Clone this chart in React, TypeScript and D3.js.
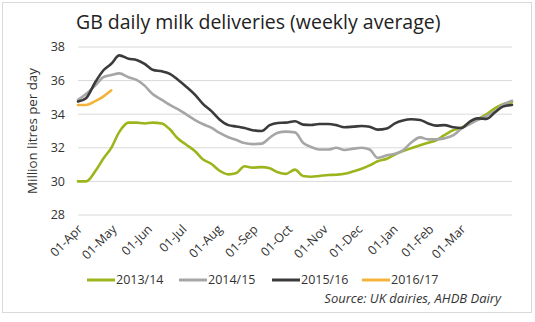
import React from "react";
import * as d3 from "d3";

// Days after 1 April at which each weekly value was read
const weekDays: number[] = [0,7,15,22,29,36,44,51,58,65,73,80,87,94,102,109,116,123,131,138,145,152,160,167,174,181,189,196,203,210,218,225,232,240,247,254,261,269,276,283,290,298,305,312,319,327,334,341,348,356,363,370,378];

const s2013: number[] = [30.0,30.0,30.6,31.35,32.0,32.95,33.5,33.5,33.45,33.5,33.45,33.1,32.55,32.2,31.8,31.3,31.05,30.65,30.42,30.5,30.9,30.82,30.85,30.78,30.55,30.45,30.7,30.32,30.28,30.32,30.38,30.4,30.45,30.6,30.75,30.95,31.2,31.35,31.6,31.8,31.97,32.15,32.3,32.45,32.75,33.05,33.2,33.5,33.7,34.0,34.35,34.6,34.7];
const s2014: number[] = [34.85,35.2,35.7,36.2,36.33,36.43,36.2,36.04,35.7,35.2,34.85,34.55,34.3,34.0,33.65,33.4,33.2,32.9,32.63,32.46,32.28,32.22,32.25,32.6,32.9,32.96,32.92,32.3,32.05,31.9,31.9,32.0,31.87,31.95,32.0,31.9,31.4,31.55,31.65,31.85,32.3,32.62,32.5,32.5,32.56,32.75,33.15,33.4,33.65,33.9,34.15,34.55,34.8];
const s2015: number[] = [34.75,34.95,35.9,36.6,37.0,37.5,37.3,37.23,37.0,36.65,36.55,36.4,36.05,35.65,35.15,34.6,34.2,33.7,33.35,33.27,33.18,33.05,33.0,33.35,33.48,33.5,33.58,33.38,33.36,33.42,33.42,33.35,33.22,33.26,33.3,33.25,33.08,33.15,33.45,33.62,33.7,33.66,33.45,33.32,33.35,33.22,33.18,33.55,33.75,33.72,34.1,34.45,34.55];
const s2016: number[] = [34.55,34.55,34.78,35.05,35.42];

const seriesNames = ["2013/14", "2014/15", "2015/16", "2016/17"];
const seriesColors = ["#9db51c", "#a6a6a6", "#3b3b3b", "#f4b43a"];
const seriesValues = [s2013, s2014, s2015, s2016];

const monthTicks = ["01-Apr","01-May","01-Jun","01-Jul","01-Aug","01-Sep","01-Oct","01-Nov","01-Dec","01-Jan","01-Feb","01-Mar"];
const yTicks = [28, 30, 32, 34, 36, 38];

const W = 535, H = 322;
const margin = { left: 78, right: 23, top: 47, bottom: 107 };
const start = new Date(2014, 3, 1);
const axisDays = 378;
const font = "'Open Sans', 'Noto Sans', sans-serif";

export default function App() {
  const end = d3.timeDay.offset(start, axisDays);
  const x = d3.scaleTime().domain([start, end]).range([margin.left, W - margin.right]);
  const y = d3.scaleLinear().domain([28, 38]).range([H - margin.bottom, margin.top]);
  const dayToDate = (d: number) => d3.timeDay.offset(start, d);
  const line = d3.line<[number, number]>()
    .x((p) => x(dayToDate(p[0])))
    .y((p) => y(p[1]))
    .curve(d3.curveMonotoneX);
  const monthDates = d3.timeMonth.range(start, new Date(2015, 2, 2));

  const legendX = [87, 179, 272, 362];

  return (
    <svg width={W} height={H} style={{ position: "absolute", left: 0, top: 0, background: "#fff" }}>
      <rect x={2.5} y={2.5} width={529} height={310} fill="#fff" stroke="#d9d9d9" strokeWidth={1} />
      <text x={76} y={29} fontFamily={font} fontSize={19.5} fill="#222">GB daily milk deliveries (weekly average)</text>
      {yTicks.map((t) => (
        <g key={t}>
          <line x1={margin.left} x2={W - margin.right} y1={y(t)} y2={y(t)} stroke="#d9d9d9" strokeWidth={1} />
          <text x={65} y={y(t)} dy="0.35em" textAnchor="end" fontFamily={font} fontSize={12.5} fill="#333">{t}</text>
        </g>
      ))}
      <text transform={`translate(37,${(y(28) + y(38)) / 2}) rotate(-90)`} textAnchor="middle" fontFamily={font} fontSize={13.3} fill="#333">Million litres per day</text>
      {monthDates.map((d, i) => (
        <text key={i} transform={`translate(${x(d) + 5},${y(28) + 15}) rotate(-45)`} textAnchor="end" fontFamily={font} fontSize={12.5} fill="#333">{monthTicks[i]}</text>
      ))}
      {seriesValues.map((vals, si) => (
        <path key={si} d={line(vals.map((v, i) => [weekDays[i], v] as [number, number])) || ""} fill="none" stroke={seriesColors[si]} strokeWidth={2.6} strokeLinejoin="round" strokeLinecap="round" />
      ))}
      {seriesNames.map((n, i) => (
        <g key={n}>
          <line x1={legendX[i]} x2={legendX[i] + 28} y1={280} y2={280} stroke={seriesColors[i]} strokeWidth={3} />
          <text x={legendX[i] + 29} y={280} dy="0.35em" fontFamily={font} fontSize={12.5} fill="#333">{n}</text>
        </g>
      ))}
      <text x={501} y={303} textAnchor="end" fontFamily={font} fontStyle="italic" fontSize={13} fill="#333">Source: UK dairies, AHDB Dairy</text>
    </svg>
  );
}
